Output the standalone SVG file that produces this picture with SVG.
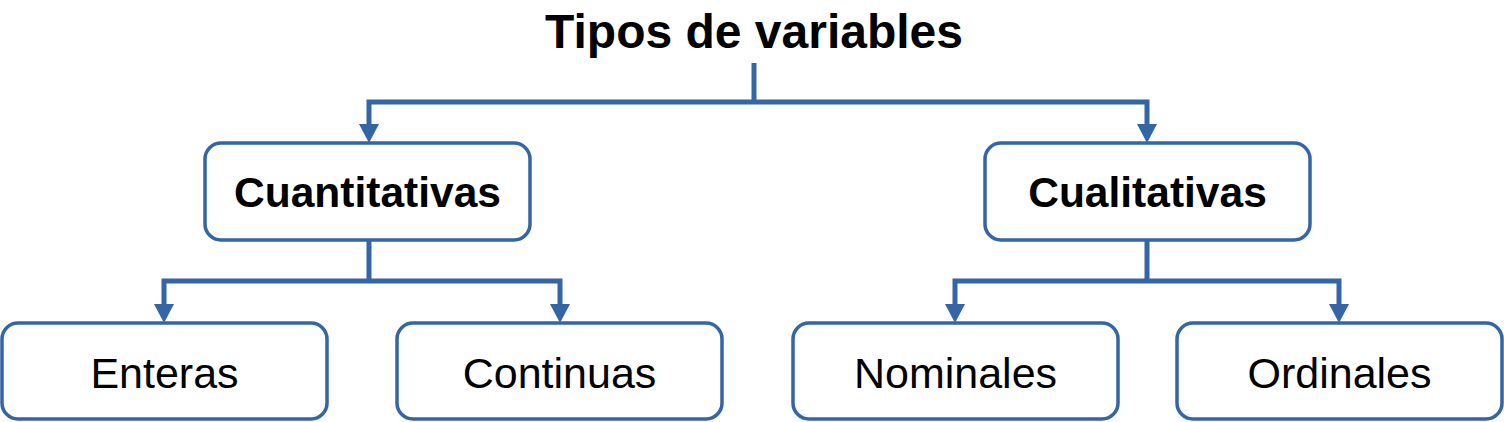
<svg xmlns="http://www.w3.org/2000/svg" width="1504" height="422" viewBox="0 0 1504 422">
<style>
.box{fill:#fff;stroke:#3465a4;stroke-width:3.5}
.ln{fill:none;stroke:#3465a4;stroke-width:5}
.ah{fill:#3465a4}
.t{font-family:"Liberation Sans",Arial,sans-serif;fill:#000;text-anchor:middle}
.b{font-weight:bold;font-size:42.5px}
.r{font-size:43px}
</style>
<g id="title"><text class="t" x="754" y="48" style="font-weight:bold;font-size:48px">Tipos de variables</text></g>
<g id="connectors">
<path class="ln" d="M754,63 V102"/>
<path class="ln" d="M369,125 V102 H1147 V125"/>
<path class="ah" d="M359,124 L379,124 L369,143 Z"/>
<path class="ah" d="M1137,124 L1157,124 L1147,143 Z"/>
<path class="ln" d="M369,241 V281"/>
<path class="ln" d="M164,305 V281 H560 V305"/>
<path class="ah" d="M154,304 L174,304 L164,323 Z"/>
<path class="ah" d="M550,304 L570,304 L560,323 Z"/>
<path class="ln" d="M1147,241 V281"/>
<path class="ln" d="M955,305 V281 H1339 V305"/>
<path class="ah" d="M945,304 L965,304 L955,323 Z"/>
<path class="ah" d="M1329,304 L1349,304 L1339,323 Z"/>
</g>
<g id="cuantitativas"><rect class="box" x="205" y="143" width="325" height="97" rx="16"/><text class="t b" x="367.5" y="207">Cuantitativas</text></g>
<g id="cualitativas"><rect class="box" x="985" y="143" width="325" height="97" rx="16"/><text class="t b" x="1147.5" y="207">Cualitativas</text></g>
<g id="enteras"><rect class="box" x="2" y="323" width="325" height="96" rx="16"/><text class="t r" x="164.5" y="388">Enteras</text></g>
<g id="continuas"><rect class="box" x="397" y="323" width="325" height="96" rx="16"/><text class="t r" x="559.5" y="388">Continuas</text></g>
<g id="nominales"><rect class="box" x="793" y="323" width="325" height="96" rx="16"/><text class="t r" x="955.5" y="388">Nominales</text></g>
<g id="ordinales"><rect class="box" x="1177" y="323" width="325" height="96" rx="16"/><text class="t r" x="1339.5" y="388">Ordinales</text></g>
</svg>
